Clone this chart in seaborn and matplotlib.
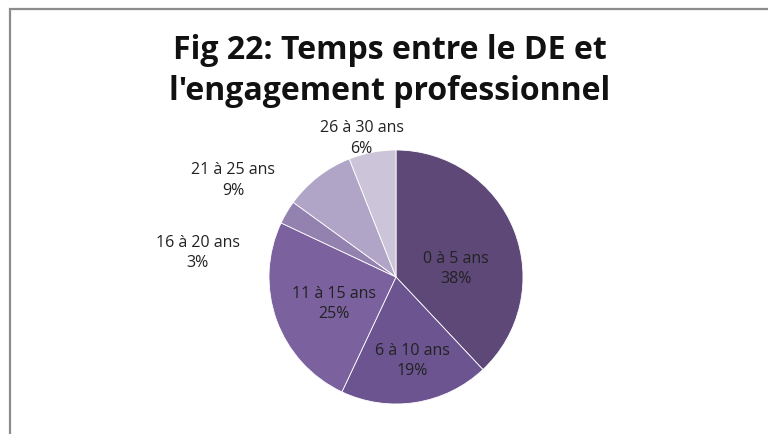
import matplotlib
matplotlib.use("Agg")
import matplotlib.pyplot as plt
from matplotlib.patches import Rectangle
import seaborn as sns

# data
categories = ["0 à 5 ans", "6 à 10 ans", "11 à 15 ans", "16 à 20 ans", "21 à 25 ans", "26 à 30 ans"]
percent = [38, 19, 25, 3, 9, 6]
colors = ["#5D4878", "#6B548F", "#7B619E", "#9381B0", "#B0A5C6", "#CCC5D9"]

# label spots, in pie radius units
label_pos = [(0.47, 0.06), (0.13, -0.66), (-0.49, -0.21), (-1.56, 0.19), (-1.28, 0.76), (-0.27, 1.09)]

sns.set_theme(style="white")
plt.rcParams["font.family"] = ["Open Sans", "DejaVu Sans"]

W, H = 768, 434
fig = plt.figure(figsize=(W / 100, H / 100), dpi=100)

# pie centre (396, 277) px, radius 127 px
cx, cy, r = 396, 277, 127
ax = fig.add_axes([(cx - r) / W, (H - cy - r) / H, 2 * r / W, 2 * r / H])
ax.pie(percent, colors=colors, startangle=90, counterclock=False,
       wedgeprops=dict(edgecolor="white", linewidth=0.6))
ax.set_aspect("equal")
ax.set_xlim(-1, 1)
ax.set_ylim(-1, 1)
ax.axis("off")

for cat, p, (x, y) in zip(categories, percent, label_pos):
    ax.text(x, y, f"{cat}\n{p}%", ha="center", va="center", fontsize=11.5,
            color="#222222", linespacing=1.35, clip_on=False)

fig.text(390 / W, 1 - 71 / H, "Fig 22: Temps entre le DE et\nl'engagement professionnel",
         ha="center", va="center", fontsize=23, fontweight="bold",
         color="#111111", linespacing=1.3)

# chart frame (cut at right / bottom)
fig.patches.append(Rectangle((9.5 / W, -0.1), 1.2, 1 - 9.5 / H + 0.1,
                             transform=fig.transFigure, fill=False,
                             edgecolor="#8c8c8c", linewidth=1.6))

fig.savefig("out.png", dpi=100)
